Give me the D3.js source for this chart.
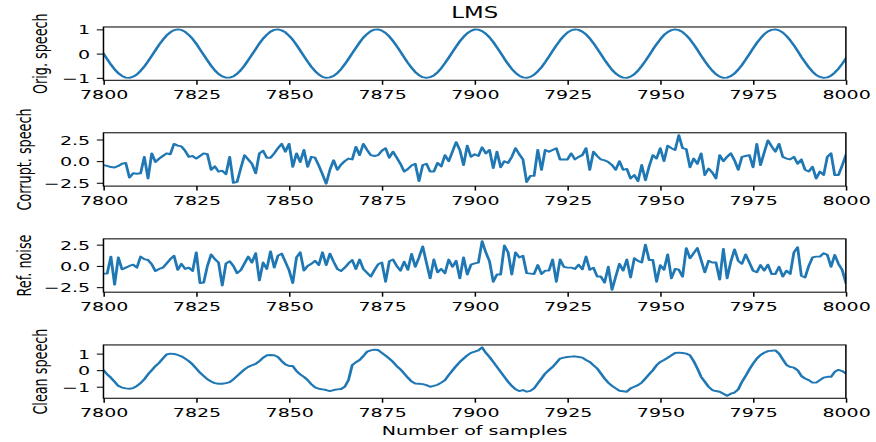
<!DOCTYPE html>
<html>
<head>
<meta charset="utf-8">
<script src="https://cdnjs.cloudflare.com/ajax/libs/d3/7.8.5/d3.min.js"></script>
<style>
  html, body { margin: 0; padding: 0; background: #fff; overflow: hidden; }
  svg { display: block; }
</style>
</head>
<body>
<svg id="chart" width="876" height="442"></svg>
<script>
// ---------------- data ----------------
const sampleStart = 7800;
const sampleEnd = 8000;
const xTicks = [7800, 7825, 7850, 7875, 7900, 7925, 7950, 7975, 8000];
const titleText = "LMS";
const xLabelText = "Number of samples";
const yLabels = ["Orig. speech", "Corrupt. speech", "Ref. noise", "Clean speech"];
const yTicksSpeech = [-1, 0, 1];
const yTicksNoise = [-2.5, 0, 2.5];
const yTickLabelsSpeech = ["\u22121", "0", "1"];
const yTickLabelsNoise = ["\u22122.5", "0.0", "2.5"];

const origSpeech = [
  0,-0.23,-0.45,-0.65,-0.81,-0.92,-0.99,-1.00,-0.95,-0.86,-0.71,-0.53,-0.32,-0.09,0.14,0.37,0.57,0.75,0.88,0.97,
  1.00,0.98,0.90,0.77,0.61,0.41,0.18,-0.05,-0.28,-0.50,-0.69,-0.84,-0.94,-0.99,-0.99,-0.94,-0.83,-0.68,-0.49,-0.27,
  -0.04,0.19,0.42,0.62,0.78,0.91,0.98,1.00,0.96,0.88,0.74,0.57,0.36,0.13,-0.10,-0.33,-0.54,-0.72,-0.86,-0.96,
  -1.00,-0.98,-0.92,-0.80,-0.64,-0.44,-0.22,0.01,0.24,0.46,0.66,0.81,0.93,0.99,1.00,0.95,0.85,0.71,0.52,0.31,
  0.08,-0.15,-0.38,-0.58,-0.76,-0.89,-0.97,-1.00,-0.97,-0.90,-0.77,-0.60,-0.39,-0.17,0.06,0.29,0.51,0.69,0.84,0.94,
  1.00,0.99,0.93,0.82,0.67,0.48,0.26,0.03,-0.21,-0.43,-0.63,-0.79,-0.91,-0.98,-1.00,-0.96,-0.87,-0.73,-0.56,-0.35,
  -0.12,0.11,0.34,0.55,0.73,0.87,0.96,1.00,0.98,0.91,0.79,0.63,0.43,0.21,-0.02,-0.26,-0.47,-0.67,-0.82,-0.93,
  -0.99,-1.00,-0.95,-0.85,-0.70,-0.51,-0.30,-0.07,0.17,0.39,0.59,0.77,0.89,0.97,1.00,0.97,0.89,0.76,0.59,0.38,
  0.16,-0.08,-0.31,-0.52,-0.70,-0.85,-0.95,-1.00,-0.99,-0.93,-0.82,-0.66,-0.47,-0.25,-0.02,0.22,0.44,0.63,0.80,0.92,
  0.98,1.00,0.96,0.87,0.73,0.55,0.34,0.11,-0.13,-0.35,-0.56,-0.74,-0.88,-0.96,-1.00,-0.98,-0.91,-0.78,-0.62,-0.42,
  -0.20
];

const corruptSpeech = [
  -0.46,-0.55,-0.68,-0.73,-0.55,-0.3,-0.2,-1.9,-1.4,-1.45,-1.4,0.5,-2.0,0.9,-0.1,0.3,0.6,0.9,0.8,2.0,
  1.8,1.7,1.2,0.5,0.6,0.3,0.6,0.9,0.8,-1.0,-0.6,-1.2,-1.1,-1.5,0.5,-2.5,-2.4,-0.8,0.7,0.2,
  -0.3,-1.4,0.9,1.2,0.4,0.4,0.9,1.5,2.0,1.1,2.0,-0.65,0.9,-0.1,1.3,-0.65,0.5,0.4,-0.5,-1.5,
  -2.6,-1.0,0.1,-1.0,-0.4,0.0,0.3,0.2,1.65,0.7,2.0,1.3,0.7,0.6,0.7,1.2,1.5,0.4,1.1,0.4,
  -0.3,-1.2,-0.9,-0.5,-0.3,-2.3,-0.45,-0.3,-1.2,-1.2,-0.2,-0.6,0.7,0.0,1.1,2.2,1.3,-0.45,1.8,0.5,
  0.8,0.6,1.6,0.9,1.3,-0.8,1.1,-0.7,0.0,-0.2,0.5,1.5,0.8,0.2,-2.4,-1.7,-1.7,1.3,-1.0,1.3,
  1.1,1.3,1.5,0.2,0.2,0.2,0.9,0.2,0.5,0.7,1.5,-1.0,1.1,0.6,0.2,0.1,-0.1,-0.45,-1.0,0.0,
  -1.0,-0.9,-2.0,-1.6,-2.3,-0.45,-2.2,-0.6,0.7,0.3,1.5,0.0,1.8,1.5,1.3,3.0,1.5,1.4,-0.7,0.3,
  -0.3,0.9,-1.6,-0.85,-1.3,-2.0,0.7,0.0,0.5,0.9,0.1,-1.0,0.5,0.6,0.7,-0.7,2.0,-0.45,1.0,2.4,
  1.7,1.1,2.0,0.5,0.3,0.2,0.5,-0.3,0.2,-1.0,-1.2,-0.65,-2.0,-1.2,-1.6,0.5,0.9,-1.6,-1.6,-0.5,
  0.7
];

const refNoise = [
  -0.9,-0.9,1.1,-2.2,1.0,-0.4,-0.2,0.0,0.15,-0.2,1.1,0.8,0.7,0.2,-0.6,-0.35,-0.2,0.3,0.8,1.2,
  -0.45,0.25,-0.35,-0.2,-0.6,1.6,-2.0,-1.95,0.0,1.35,0.8,0.4,-2.3,0.3,0.55,0.0,-0.85,-0.5,0.3,1.1,
  0.4,1.5,-1.7,0.4,-0.35,1.7,-0.2,1.2,1.45,0.5,-0.5,-2.0,1.0,1.6,-0.55,0.0,0.25,0.6,0.1,1.6,
  0.1,1.45,0.5,-0.35,-0.6,-0.2,0.3,0.7,-0.35,0.75,-0.35,-0.8,-1.25,-0.5,0.2,0.4,-1.85,0.55,0.75,0.0,
  -0.55,0.5,-0.45,1.4,-0.1,1.0,2.3,0.4,-1.45,0.75,-0.75,-0.35,-0.85,0.75,-0.1,0.6,-1.45,1.0,-1.0,0.15,
  0.3,0.4,2.9,1.6,0.55,-1.85,-1.0,-1.0,2.4,1.6,-1.0,1.6,1.0,1.2,-0.85,-0.9,-0.95,0.1,-0.95,-0.55,
  -0.55,0.75,-1.85,0.75,-0.1,-0.2,-0.2,-0.35,0.15,-0.4,1.1,-0.45,-0.2,-1.25,-1.25,-1.95,-0.1,-2.8,-1.25,0.25,
  -0.55,0.75,-1.35,0.9,0.6,0.4,2.5,0.7,0.7,-1.85,0.1,-0.45,1.35,-1.45,-0.35,-0.45,-1.25,2.1,0.9,1.5,
  2.1,0.7,-0.75,0.6,0.4,0.4,-1.6,2.0,-1.45,0.5,1.95,0.6,0.25,1.35,0.4,-0.55,-0.75,0.1,-0.55,0.15,
  -0.95,-0.95,-0.1,-1.25,-0.55,-0.95,1.6,2.2,-1.15,-1.35,0.0,1.0,1.1,1.1,1.5,1.3,-0.1,1.3,0.25,-0.45,
  -2.0
];

const cleanSpeech = [
  0.0,-0.25,-0.45,-0.7,-0.95,-1.05,-1.1,-1.12,-1.08,-0.95,-0.78,-0.55,-0.25,0.0,0.25,0.45,0.7,0.95,1.0,0.98,
  0.92,0.84,0.7,0.55,0.35,0.1,-0.15,-0.35,-0.55,-0.68,-0.78,-0.82,-0.82,-0.78,-0.72,-0.55,-0.35,-0.15,0.05,0.2,
  0.3,0.38,0.55,0.75,0.9,0.92,0.9,0.8,0.55,0.35,0.25,0.25,-0.05,-0.25,-0.4,-0.6,-0.85,-1.04,-1.12,-1.16,
  -1.2,-1.26,-1.2,-1.16,-1.14,-1.0,-0.6,0.3,0.48,0.62,0.85,1.12,1.2,1.24,1.22,1.05,0.88,0.7,0.5,0.25,
  0.05,-0.2,-0.45,-0.68,-0.8,-0.82,-0.84,-0.9,-1.0,-0.95,-0.88,-0.75,-0.6,-0.3,-0.02,0.25,0.5,0.7,0.9,1.05,
  1.12,1.2,1.38,1.05,0.8,0.5,0.2,-0.1,-0.4,-0.7,-0.95,-1.15,-1.26,-1.2,-1.3,-1.25,-1.1,-0.8,-0.5,-0.2,
  0.0,0.2,0.45,0.7,0.76,0.8,0.82,0.84,0.8,0.76,0.62,0.5,0.3,0.1,-0.2,-0.5,-0.76,-0.95,-1.1,-1.24,
  -1.27,-1.3,-1.1,-1.0,-0.9,-0.75,-0.5,-0.25,0.0,0.3,0.5,0.62,0.75,0.9,1.04,1.06,1.04,1.0,0.9,0.55,
  0.1,-0.4,-0.7,-1.0,-1.2,-1.26,-1.3,-1.42,-1.55,-1.42,-1.35,-1.16,-0.7,-0.35,0.05,0.4,0.7,0.92,1.05,1.15,
  1.18,1.2,1.0,0.65,0.32,0.2,0.15,0.0,-0.35,-0.5,-0.6,-0.75,-0.75,-0.6,-0.45,-0.4,-0.4,-0.1,0.02,-0.05,
  -0.2
];

const panels = [
  { label: yLabels[0], values: origSpeech,    ticks: yTicksSpeech, tickLabels: yTickLabelsSpeech },
  { label: yLabels[1], values: corruptSpeech, ticks: yTicksNoise,  tickLabels: yTickLabelsNoise },
  { label: yLabels[2], values: refNoise,      ticks: yTicksNoise,  tickLabels: yTickLabelsNoise },
  { label: yLabels[3], values: cleanSpeech,   ticks: yTicksSpeech, tickLabels: yTickLabelsSpeech }
];

// ---------------- layout (native 640x480 figure, stretched to 876x442) ----------------
const NW = 640, NH = 480;
const svg = d3.select("#chart")
  .attr("viewBox", `0 0 ${NW} ${NH}`)
  .attr("preserveAspectRatio", "none");

const FONT = "DejaVu Sans, sans-serif";
const fs = 13.89;
const left = 75.6, right = 618.0;
const panelTops = [29.3, 144.2, 259.4, 374.6];
const panelH = 57.9;
const ylabelX = [29.0, 18.0, 18.0, 29.0];
const color = "#1f77b4";
const tickLen = 4.86, tickPad = 4.86, spineW = 1.11;

const x = d3.scaleLinear().domain([sampleStart, sampleEnd]).range([left, right]);
const samples = d3.range(sampleStart, sampleEnd + 1);

panels.forEach((p, i) => {
  const top = panelTops[i], bottom = top + panelH;
  const mn = d3.min(p.values), mx = d3.max(p.values);
  const pad = (mx - mn) * 0.05;
  const y = d3.scaleLinear().domain([mn - pad, mx + pad]).range([bottom, top]);

  const g = svg.append("g");

  const clipId = "clip" + i;
  svg.append("clipPath").attr("id", clipId)
    .append("rect").attr("x", left).attr("y", top).attr("width", right - left).attr("height", panelH);

  const line = d3.line().x((d, j) => x(samples[j])).y(d => y(d));
  g.append("path")
    .datum(p.values)
    .attr("d", line)
    .attr("fill", "none")
    .attr("stroke", color)
    .attr("stroke-width", 2.08)
    .attr("stroke-linejoin", "round")
    .attr("stroke-linecap", "square")
    .attr("clip-path", `url(#${clipId})`);

  // frame
  g.append("rect")
    .attr("x", left).attr("y", top).attr("width", right - left).attr("height", panelH)
    .attr("fill", "none").attr("stroke", "#000").attr("stroke-width", spineW);

  // x axis
  const xa = g.append("g").attr("transform", `translate(0,${bottom})`)
    .call(d3.axisBottom(x).tickValues(xTicks).tickFormat(d3.format("d"))
      .tickSize(tickLen).tickPadding(tickPad));
  // y axis
  const ya = g.append("g").attr("transform", `translate(${left},0)`)
    .call(d3.axisLeft(y).tickValues(p.ticks).tickFormat((d, k) => p.tickLabels[k])
      .tickSize(tickLen).tickPadding(tickPad));

  [xa, ya].forEach(a => {
    a.select(".domain").remove();
    a.attr("font-family", FONT).attr("font-size", fs);
    a.selectAll(".tick line").attr("stroke", "#000").attr("stroke-width", spineW);
    a.selectAll(".tick text").attr("fill", "#000");
  });
  xa.selectAll(".tick text").attr("dy", "0.76em");
  ya.selectAll(".tick text").attr("dy", "0.36em");

  // y label
  g.append("text")
    .attr("transform", `translate(${ylabelX[i]},${(top + bottom) / 2}) rotate(-90)`)
    .attr("text-anchor", "middle")
    .attr("dy", "0.36em")
    .attr("font-family", FONT).attr("font-size", fs)
    .attr("fill", "#000")
    .text(p.label);
});

// title
svg.append("text")
  .attr("x", (left + right) / 2).attr("y", 19.9)
  .attr("text-anchor", "middle")
  .attr("font-family", FONT).attr("font-size", 16.67)
  .attr("fill", "#000")
  .text(titleText);

// x label
svg.append("text")
  .attr("x", (left + right) / 2).attr("y", 472.5)
  .attr("text-anchor", "middle")
  .attr("font-family", FONT).attr("font-size", fs)
  .attr("fill", "#000")
  .text(xLabelText);
</script>
</body>
</html>
